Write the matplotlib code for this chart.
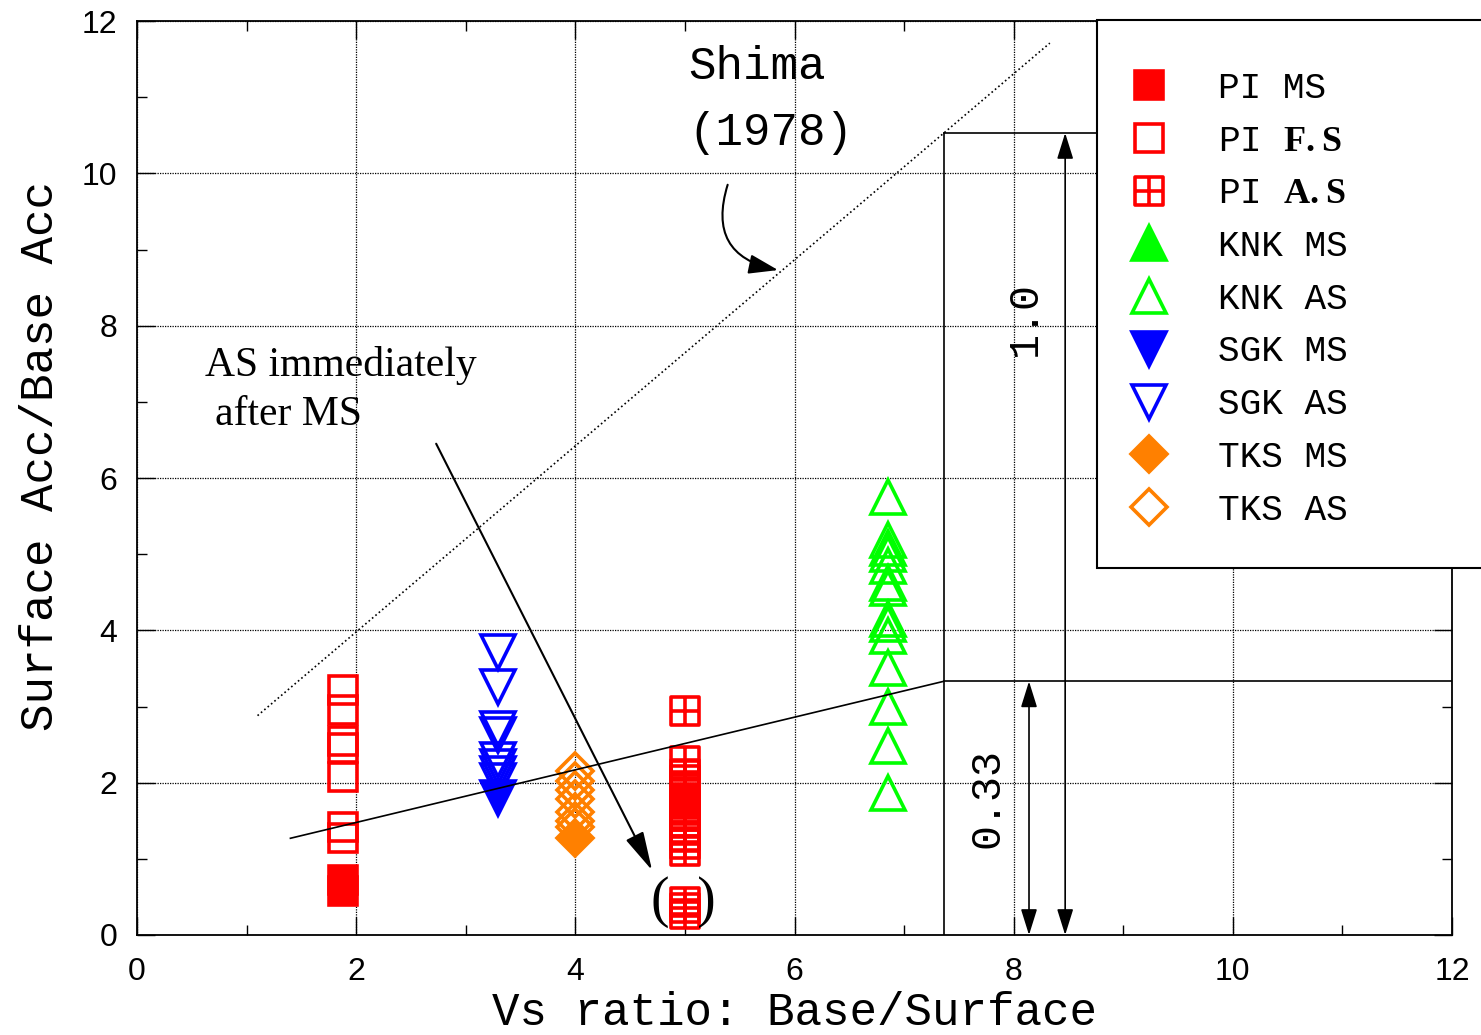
import matplotlib.pyplot as plt
from matplotlib.path import Path
from matplotlib.lines import Line2D
from matplotlib.patches import Rectangle

plt.rcParams['font.family'] = 'Liberation Sans'
plt.rcParams['mathtext.fontset'] = 'custom'
plt.rcParams['mathtext.bf'] = 'Liberation Serif:bold'
MONO = 'Liberation Mono'
SERIF = 'Liberation Serif'

# site positions (Vs ratio) and acceleration ratios
pi_x = 1.88
pi_ms_y = [0.72, 0.58]
pi_fs_y = [3.22, 2.95, 2.55, 2.45, 2.08, 1.42, 1.28]
pi_as_x = 5.0
pi_as_y = [2.94, 2.28, 2.12, 2.04, 1.96, 1.88, 1.8, 1.72, 1.64, 1.56, 1.48, 1.4,
           1.3, 1.2, 1.1, 0.43, 0.36, 0.28]
knk_x = 6.85
knk_ms_y = []
knk_as_y = [5.75, 5.18, 5.08, 5.0, 4.85, 4.62, 4.55, 4.15, 4.08, 3.92, 3.5, 3.0, 2.48, 1.87]
sgk_x = 3.29
sgk_ms_y = [1.8]
sgk_as_y = [3.72, 3.25, 2.7, 2.62, 2.3, 2.2, 2.12, 2.02]
tks_x = 4.0
tks_ms_y = [1.27]
tks_as_y = [2.15, 2.02, 1.9, 1.78, 1.62, 1.5, 1.42]

# reference lines
shima_x = [1.1, 8.33]
shima_y = [2.88, 11.71]
fit_x = [1.4, 7.36]
fit_y = [1.27, 3.33]
upper_level = 10.53

RED = '#ff0000'
GREEN = '#00ff00'
BLUE = '#0000ff'
ORANGE = '#ff8000'

# square with a cross inside
box_cross = Path([(-1, -1), (1, -1), (1, 1), (-1, 1), (-1, -1),
                  (0, -1), (0, 1), (-1, 0), (1, 0)],
                 [Path.MOVETO, Path.LINETO, Path.LINETO, Path.LINETO, Path.CLOSEPOLY,
                  Path.MOVETO, Path.LINETO, Path.MOVETO, Path.LINETO])

series = [
    ('PI MS', pi_x, pi_ms_y, 's', RED, True, 20),
    (r'PI $\mathbf{F.S}$', pi_x, pi_fs_y, 's', RED, False, 20),
    (r'PI $\mathbf{A.S}$', pi_as_x, pi_as_y, box_cross, RED, False, 20),
    ('KNK MS', knk_x, knk_ms_y, '^', GREEN, True, 24),
    ('KNK AS', knk_x, knk_as_y, '^', GREEN, False, 24),
    ('SGK MS', sgk_x, sgk_ms_y, 'v', BLUE, True, 24),
    ('SGK AS', sgk_x, sgk_as_y, 'v', BLUE, False, 24),
    ('TKS MS', tks_x, tks_ms_y, 'D', ORANGE, True, 18),
    ('TKS AS', tks_x, tks_as_y, 'D', ORANGE, False, 18),
]

fig = plt.figure(figsize=(14.81, 10.35), dpi=100)
ax = fig.add_axes([137 / 1481, 1 - 935 / 1035, (1452 - 137) / 1481, (935 - 21) / 1035])

handles = []
for label, x, ys, marker, color, filled, ms in series:
    fc = color if filled else 'none'
    ax.plot([x] * len(ys), ys, linestyle='none', marker=marker, ms=ms,
            mfc=fc, mec=color, mew=2.6, zorder=2)
    handles.append(Line2D([], [], linestyle='none', marker=marker, ms=ms,
                          mfc=fc, mec=color, mew=2.6, label=label))

# Shima (1978) line and the fitted line with its bounding box
ax.plot(shima_x, shima_y, color='k', ls=':', lw=1.2, zorder=3)
ax.plot(fit_x, fit_y, color='k', lw=1.2, zorder=3)
ax.plot([fit_x[1], 12], [fit_y[1], fit_y[1]], color='k', lw=1.2, zorder=3)
ax.plot([fit_x[1], fit_x[1]], [0, upper_level], color='k', lw=1.2, zorder=3)
ax.plot([fit_x[1], 9.5], [upper_level, upper_level], color='k', lw=1.2, zorder=3)

dbl = dict(arrowstyle='<|-|>,head_length=0.8,head_width=0.25', color='k', lw=1.2,
           mutation_scale=20, shrinkA=0, shrinkB=0)
ax.annotate('', xy=(8.47, 0), xytext=(8.47, upper_level), arrowprops=dbl, zorder=3)
ax.annotate('', xy=(8.14, 0), xytext=(8.14, fit_y[1]), arrowprops=dbl, zorder=3)
ax.text(8.10, 8.10, '1.0', rotation=90, fontsize=30, family=MONO,
        ha='center', va='center')
ax.text(7.76, 1.80, '0.33', rotation=90, fontsize=30, family=MONO,
        ha='center', va='center')

ax.text(5.66, 11.40, 'Shima', fontsize=33, family=MONO, ha='center', va='center')
ax.text(5.78, 10.53, '(1978)', fontsize=33, family=MONO, ha='center', va='center')
ax.annotate('', xy=(5.85, 8.73), xytext=(5.39, 9.85),
            arrowprops=dict(arrowstyle='-|>,head_length=0.9,head_width=0.3', color='k',
                            lw=1.5, mutation_scale=20, shrinkA=0, shrinkB=0,
                            connectionstyle='arc3,rad=0.55'))

ax.text(0.62, 7.48, 'AS immediately', fontsize=30, family=SERIF, va='center')
ax.text(0.71, 6.83, 'after MS', fontsize=30, family=SERIF, va='center')
ax.annotate('', xy=(4.70, 0.85), xytext=(2.73, 6.45),
            arrowprops=dict(arrowstyle='-|>,head_length=1.2,head_width=0.3', color='k',
                            lw=1.5, mutation_scale=20, shrinkA=0, shrinkB=0))
ax.text(4.99, 0.43, '(  )', fontsize=40, family=SERIF, ha='center', va='center')

ax.set_xlim(0, 12)
ax.set_ylim(0, 12)
ax.set_xticks(range(0, 13, 2))
ax.set_yticks(range(0, 13, 2))
ax.set_xticks(range(1, 12, 2), minor=True)
ax.set_yticks(range(1, 12, 2), minor=True)
ax.tick_params(which='both', direction='in', top=True, right=True, width=1)
ax.tick_params(which='major', length=13, labelsize=23)
ax.tick_params(which='minor', length=7)
ax.tick_params(axis='x', pad=16)
ax.tick_params(axis='y', pad=14)
ax.grid(True, which='major', color='k', ls=(0, (1, 1)), lw=0.9)
ax.set_axisbelow(True)
for sp in ax.spines.values():
    sp.set_linewidth(1.3)

ax.set_xlabel('Vs ratio: Base/Surface', fontsize=33, family=MONO)
ax.xaxis.set_label_coords(0.5, -0.061)
ax.set_ylabel('Surface Acc/Base Acc', fontsize=33, family=MONO)
ax.yaxis.set_label_coords(-0.056, 0.524)

# legend panel running off the right edge
fig.patches.append(Rectangle((1097 / 1481, 1 - 568 / 1035), 0.5, (568 - 20) / 1035,
                             transform=fig.transFigure, facecolor='white',
                             edgecolor='k', lw=1.5, zorder=4))
fig.legend(handles=handles, loc='upper left',
           bbox_to_anchor=(1122 / 1481, 1 - 71 / 1035),
           frameon=False, borderpad=0, borderaxespad=0, labelspacing=0.49,
           handlelength=1.5, handletextpad=1.17,
           prop={'family': MONO, 'size': 26})

fig.savefig('out.png', dpi=100)
